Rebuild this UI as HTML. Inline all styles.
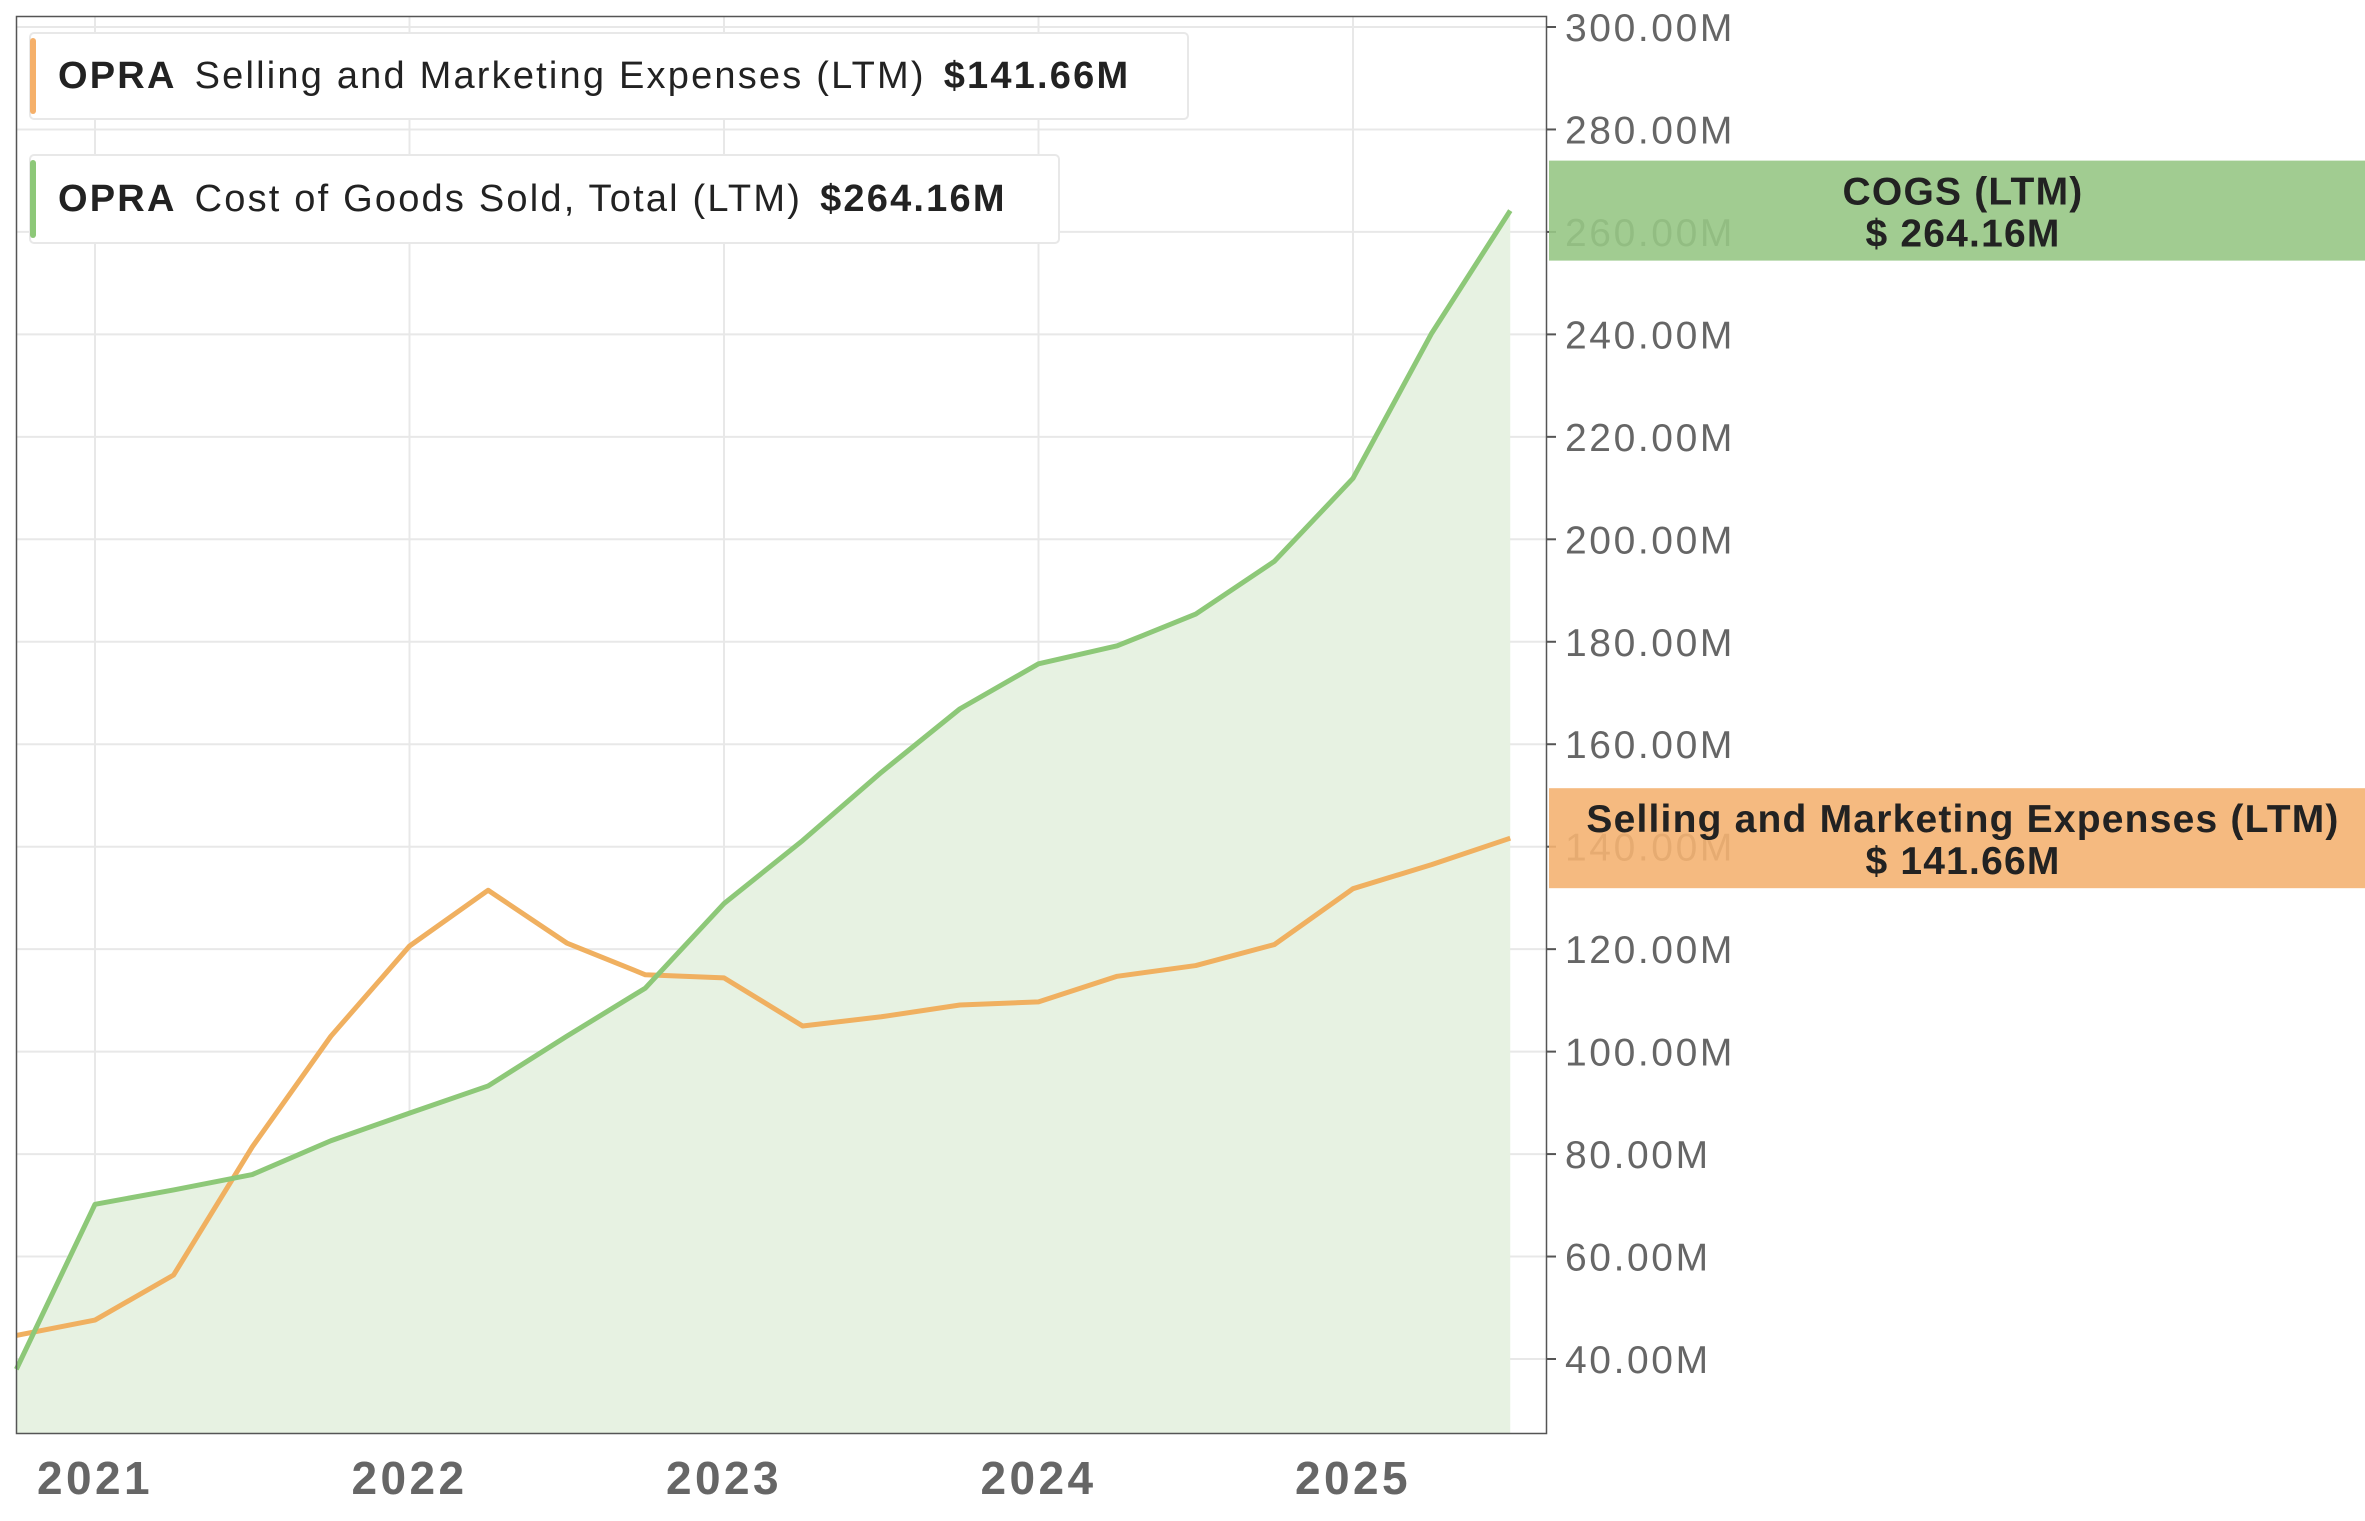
<!DOCTYPE html>
<html><head><meta charset="utf-8"><style>
html,body{margin:0;padding:0;background:#fff;}
svg{display:block;font-family:"Liberation Sans",sans-serif;}
</style></head><body>
<svg id="chart" width="2365" height="1521" viewBox="0 0 2365 1521">
<g id="grid"></g>
<g id="area"></g>
<g id="lines"></g>
<rect x="16.5" y="16.5" width="1530" height="1417" fill="none" stroke="#555" stroke-width="1.5"/>
<g id="yticks"></g>
<g id="xticks"></g>
<g>
<rect x="30" y="33" width="1158" height="86" rx="4" fill="#fff" stroke="#e8e8e8" stroke-width="2"/>
<rect x="30" y="38" width="6" height="76" rx="3" fill="#f5b06a"/>
<text x="58" y="88" font-size="38" fill="#222" letter-spacing="2.2"><tspan font-weight="bold">OPRA</tspan><tspan dx="18">Selling and Marketing Expenses (LTM)</tspan><tspan dx="18" font-weight="bold">$141.66M</tspan></text>
</g>
<g>
<rect x="30" y="155" width="1029" height="88" rx="4" fill="#fff" stroke="#e8e8e8" stroke-width="2"/>
<rect x="30" y="160" width="6" height="78" rx="3" fill="#8dc878"/>
<text x="58" y="211" font-size="38" fill="#222" letter-spacing="2.2"><tspan font-weight="bold">OPRA</tspan><tspan dx="18">Cost of Goods Sold, Total (LTM)</tspan><tspan dx="18" font-weight="bold">$264.16M</tspan></text>
</g>
<g id="tags"></g>
</svg>
<script>
const quarters=[2020.75,2021,2021.25,2021.5,2021.75,2022,2022.25,2022.5,2022.75,2023,2023.25,2023.5,2023.75,2024,2024.25,2024.5,2024.75,2025,2025.25,2025.5];
const cogs=[38,70.2,73,76,82.6,88,93.3,103,112.4,128.9,141.2,154.5,166.9,175.7,179.2,185.4,195.7,211.9,240.2,264.16];
const sm=[44.6,47.6,56.4,81.4,103,120.6,131.5,121.2,115,114.4,105,106.8,109.1,109.7,114.7,116.8,120.9,131.8,136.5,141.66];
const yTicks=[40,60,80,100,120,140,160,180,200,220,240,260,280,300];
const xTicks=[2021,2022,2023,2024,2025];
const NS="http://www.w3.org/2000/svg";
const X=t=>95+(t-2021)*314.5;
const Y=v=>1359-(v-40)*(1332/260);
const PB=1433;
function mk(tag,attrs,parent){const e=document.createElementNS(NS,tag);for(const k in attrs)e.setAttribute(k,attrs[k]);document.getElementById(parent).appendChild(e);return e;}
yTicks.forEach(v=>{
 const g=mk('line',{x1:17,x2:1546,y1:Y(v),y2:Y(v),stroke:'#e8e8e8','stroke-width':2},'grid');
 
 
 const tk=mk('line',{x1:1546,x2:1556,y1:Y(v),y2:Y(v),stroke:'#555','stroke-width':2},'yticks');
 
 
 const t=mk('text',{x:1565,y:Y(v)+14,'font-size':39,fill:'#666','letter-spacing':2.6},'yticks');
 t.textContent=v.toFixed(2)+'M';
 
 
});
xTicks.forEach(v=>{
 const g=mk('line',{x1:X(v),x2:X(v),y1:17,y2:PB,stroke:'#e8e8e8','stroke-width':2},'grid');
 
 
 const t=mk('text',{x:X(v),y:1494,'font-size':46,'font-weight':'bold',fill:'#666','text-anchor':'middle','letter-spacing':3.4},'xticks');
 t.textContent=v;
 
 
});
const ptsC=quarters.map((q,i)=>X(q)+','+Y(cogs[i])).join(' ');
const ptsS=quarters.map((q,i)=>X(q)+','+Y(sm[i])).join(' ');
const a=mk('polygon',{points:X(quarters[0])+','+PB+' '+ptsC+' '+X(quarters[quarters.length-1])+','+PB,fill:'#e7f2e2'},'area');


const l1=mk('polyline',{points:ptsS,fill:'none',stroke:'#f0b060','stroke-width':5,'stroke-linejoin':'round'},'lines');


const l2=mk('polyline',{points:ptsC,fill:'none',stroke:'#8dc878','stroke-width':5,'stroke-linejoin':'round'},'lines');


function tag(v,color,l1t,l2t,name){
 const cy=Y(v);
 const r=mk('rect',{x:1549,y:cy-50,width:816,height:100,fill:color,'fill-opacity':0.9},'tags');
 
 
 const t1=mk('text',{x:1963,y:cy-6,'font-size':39,'font-weight':'bold',fill:'#222','text-anchor':'middle','letter-spacing':1.2},'tags');
 t1.textContent=l1t;
 
 
 const t2=mk('text',{x:1963,y:cy+36,'font-size':39,'font-weight':'bold',fill:'#222','text-anchor':'middle','letter-spacing':1.2},'tags');
 t2.textContent=l2t;
 
 
}
tag(cogs[cogs.length-1],'#97c785','COGS (LTM)','$ '+cogs[cogs.length-1].toFixed(2)+'M','cogs-tag');
tag(sm[sm.length-1],'#f4b272','Selling and Marketing Expenses (LTM)','$ '+sm[sm.length-1].toFixed(2)+'M','sm-tag');
</script>
</body></html>
